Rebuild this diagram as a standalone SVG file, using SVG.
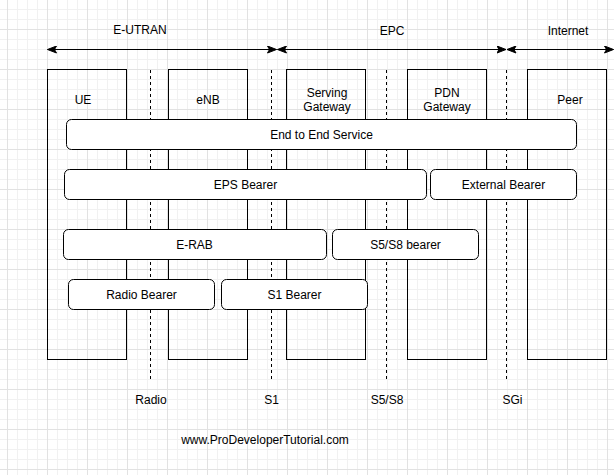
<svg xmlns="http://www.w3.org/2000/svg" width="614" height="475" viewBox="0 0 614 475">
  <style>
    text { font-family: "Liberation Sans", Arial, Helvetica, sans-serif; font-size: 12px; fill: #000; text-anchor: middle; }
    .box { fill: none; stroke: #000; stroke-width: 1; }
    .bearer { fill: #fff; stroke: #000; stroke-width: 1; }
    .dash { fill: none; stroke: #000; stroke-width: 1; stroke-dasharray: 3 3; }
    .arrow { fill: none; stroke: #000; stroke-width: 1; marker-start: url(#head); marker-end: url(#head); }
  </style>
  <defs>
    <pattern id="grid" x="7" y="29" width="40" height="40" patternUnits="userSpaceOnUse">
      <rect x="10" y="0" width="1" height="40" fill="#f1f1f1"/>
      <rect x="20" y="0" width="1" height="40" fill="#f1f1f1"/>
      <rect x="30" y="0" width="1" height="40" fill="#f1f1f1"/>
      <rect x="0" y="10" width="40" height="1" fill="#f1f1f1"/>
      <rect x="0" y="20" width="40" height="1" fill="#f1f1f1"/>
      <rect x="0" y="30" width="40" height="1" fill="#f1f1f1"/>
      <rect x="0" y="0" width="1" height="40" fill="#e2e2e2"/>
      <rect x="0" y="0" width="40" height="1" fill="#e2e2e2"/>
    </pattern>
    <marker id="head" viewBox="0 0 10 8" refX="9.5" refY="4" markerWidth="10" markerHeight="8" markerUnits="userSpaceOnUse" orient="auto-start-reverse">
      <path d="M0.5,0.5 L9.5,4 L0.5,7.5 L2.5,4 Z" fill="#000" stroke="#000" stroke-width="1" stroke-linejoin="miter"/>
    </marker>
  </defs>
  <rect x="0" y="0" width="614" height="475" fill="#fff"/>
  <rect x="0" y="0" width="614" height="475" fill="url(#grid)"/>

  <g id="domain-labels">
    <text x="140" y="34">E-UTRAN</text>
    <text x="392" y="35">EPC</text>
    <text x="568" y="35">Internet</text>
  </g>

  <g id="connectors">
    <line class="arrow" x1="47.5" y1="49.5" x2="276.5" y2="49.5"/>
    <line class="arrow" x1="277.5" y1="49.5" x2="506" y2="49.5"/>
    <line class="arrow" x1="507" y1="49.5" x2="613.5" y2="49.5"/>
  </g>

  <g id="interfaces">
    <line class="dash" x1="150.5" y1="70" x2="150.5" y2="380"/>
    <line class="dash" x1="271.5" y1="70" x2="271.5" y2="380"/>
    <line class="dash" x1="386.5" y1="70" x2="386.5" y2="380"/>
    <line class="dash" x1="506.5" y1="70" x2="506.5" y2="380"/>
    <text x="151" y="404">Radio</text>
    <text x="271.5" y="404">S1</text>
    <text x="387" y="404">S5/S8</text>
    <text x="512.5" y="404">SGi</text>
  </g>

  <g id="ue">
    <rect class="box" x="47.5" y="69.5" width="79" height="290"/>
    <text x="83" y="104">UE</text>
  </g>
  <g id="enb">
    <rect class="box" x="168.5" y="69.5" width="79" height="290"/>
    <text x="208" y="104">eNB</text>
  </g>
  <g id="serving-gateway">
    <rect class="box" x="286.5" y="69.5" width="79" height="290"/>
    <text x="327" y="97">Serving</text>
    <text x="327" y="111">Gateway</text>
  </g>
  <g id="pdn-gateway">
    <rect class="box" x="407.5" y="69.5" width="79" height="290"/>
    <text x="447" y="97">PDN</text>
    <text x="447" y="111">Gateway</text>
  </g>
  <g id="peer">
    <rect class="box" x="527.5" y="69.5" width="79" height="290"/>
    <text x="570" y="104">Peer</text>
  </g>

  <g id="end-to-end-service">
    <rect class="bearer" x="66.5" y="119.5" width="510" height="30" rx="5" ry="5"/>
    <text x="321.5" y="139">End to End Service</text>
  </g>
  <g id="eps-bearer">
    <rect class="bearer" x="64.5" y="169.5" width="362" height="30" rx="5" ry="5"/>
    <text x="245.5" y="189">EPS Bearer</text>
  </g>
  <g id="external-bearer">
    <rect class="bearer" x="430.5" y="169.5" width="146" height="30" rx="5" ry="5"/>
    <text x="503.5" y="189">External Bearer</text>
  </g>
  <g id="e-rab">
    <rect class="bearer" x="63.5" y="229.5" width="263" height="30" rx="5" ry="5"/>
    <text x="194.5" y="249">E-RAB</text>
  </g>
  <g id="s5s8-bearer">
    <rect class="bearer" x="332.5" y="229.5" width="146" height="30" rx="5" ry="5"/>
    <text x="405.5" y="249">S5/S8 bearer</text>
  </g>
  <g id="radio-bearer">
    <rect class="bearer" x="68.5" y="279.5" width="146" height="30" rx="5" ry="5"/>
    <text x="141.5" y="299">Radio Bearer</text>
  </g>
  <g id="s1-bearer">
    <rect class="bearer" x="221.5" y="279.5" width="146" height="30" rx="5" ry="5"/>
    <text x="294.5" y="299">S1 Bearer</text>
  </g>

  <g id="footer">
    <text x="265" y="444">www.ProDeveloperTutorial.com</text>
  </g>
</svg>
